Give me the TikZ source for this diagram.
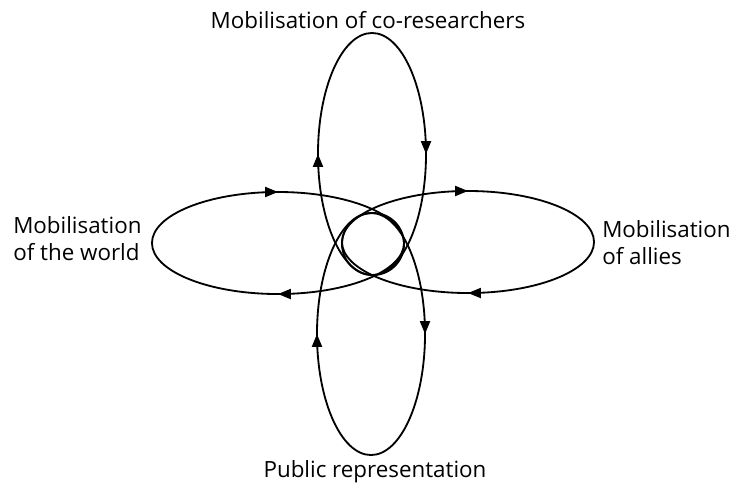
\documentclass[tikz,border=0pt]{standalone}
\usepackage{fontspec}
\setmainfont{Open Sans}
\usetikzlibrary{arrows.meta,decorations.markings}

\tikzset{
	loopline/.style={line width=1.3pt},
	cwarrows/.style 2 args={postaction={decorate, decoration={markings,
		mark=at position #1 with {\arrowreversed{Triangle[length=3.2mm,width=2.5mm]}},
		mark=at position #2 with {\arrowreversed{Triangle[length=3.2mm,width=2.5mm]}}}}},
	loopname/.style={inner sep=0pt, align=left, font=\fontsize{15.9}{19.2}\selectfont}
}

\begin{document}
\begin{tikzpicture}[x=0.025cm, y=-0.025cm]
	\useasboundingbox (0, 0) rectangle (736, 483);

	\coordinate (hub) at (373, 244);
	\coordinate (topc) at (372, 154);
	\coordinate (botc) at (371, 334);
	\coordinate (leftc) at (278, 243);
	\coordinate (rightc) at (468, 242);

	% Draw the four loops and the circle in the middle
	\draw[loopline, cwarrows={0.0}{0.5}] (topc) ellipse [x radius=1.35cm, y radius=3.025cm];
	\draw[loopline, cwarrows={0.0}{0.5}] (botc) ellipse [x radius=1.35cm, y radius=3.025cm];
	\draw[loopline, cwarrows={0.25}{0.75}] (leftc) ellipse [x radius=3.15cm, y radius=1.275cm];
	\draw[loopline, cwarrows={0.25}{0.75}] (rightc) ellipse [x radius=3.15cm, y radius=1.275cm];
	\draw[loopline] (hub) circle [radius=0.775cm];

	% Labels of the loops
	\node[loopname, anchor=base] (coresearchers) at (368, 28) {Mobilisation of co-researchers};
	\node[loopname, anchor=base] (public) at (375, 477) {Public representation};
	\node[loopname, anchor=west] (world) at (13, 239) {Mobilisation\\of the world};
	\node[loopname, anchor=west] (allies) at (602, 243) {Mobilisation\\of allies};
\end{tikzpicture}
\end{document}
